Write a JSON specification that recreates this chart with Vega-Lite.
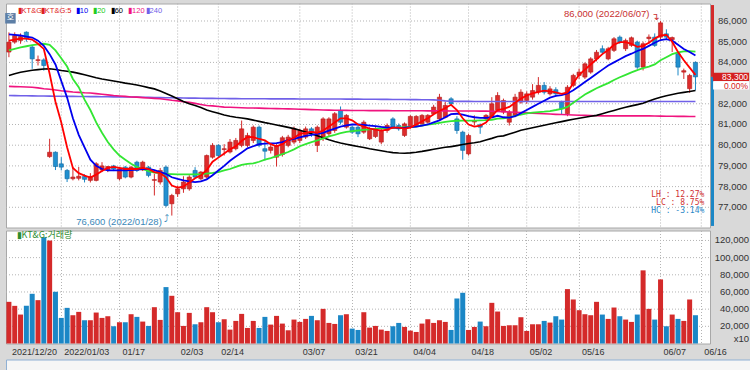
{
  "$schema": "https://vega.github.io/schema/vega-lite/v6.json",
  "background": "#d9d9d9",
  "padding": {"left": 4, "top": 2.5, "right": 0, "bottom": 0},
  "spacing": 1,
  "config": {
    "view": {"stroke": "#a8a8a8", "fill": "white"},
    "font": "Liberation Sans",
    "axis": {"labelFont": "Liberation Sans"}
  },
  "datasets": {
    "p": [
      {"d":"2021/12/20","o":84500,"h":85450,"l":84250,"c":84980,"v":48530,"a5":85050,"a10":85350,"a20":84580,"a60":83370,"a120":82840,"a240":82400},
      {"d":"2021/12/21","o":84980,"h":85450,"l":84900,"c":85300,"v":43850,"a5":85100,"a10":85330,"a20":84650,"a60":83450,"a120":82830,"a240":82396},
      {"d":"2021/12/22","o":85060,"h":85400,"l":84900,"c":85250,"v":33710,"a5":85150,"a10":85300,"a20":84720,"a60":83520,"a120":82820,"a240":82392},
      {"d":"2021/12/23","o":85460,"h":85500,"l":85000,"c":85140,"v":43850,"a5":85150,"a10":85250,"a20":84780,"a60":83570,"a120":82810,"a240":82388},
      {"d":"2021/12/24","o":84740,"h":84800,"l":83690,"c":84170,"v":57890,"a5":85100,"a10":85200,"a20":84830,"a60":83620,"a120":82800,"a240":82384},
      {"d":"2021/12/27","o":84090,"h":84330,"l":83850,"c":84130,"v":50480,"a5":84900,"a10":85050,"a20":84870,"a60":83650,"a120":82770,"a240":82380},
      {"d":"2021/12/28","o":84120,"h":84200,"l":83600,"c":83850,"v":123780,"a5":84650,"a10":84800,"a20":84900,"a60":83680,"a120":82730,"a240":82376},
      {"d":"2021/12/29","o":79450,"h":80310,"l":79390,"c":79660,"v":119880,"a5":83450,"a10":84400,"a20":84850,"a60":83690,"a120":82700,"a240":82372},
      {"d":"2021/12/30","o":79660,"h":79700,"l":78800,"c":78970,"v":60230,"a5":82100,"a10":83900,"a20":84580,"a60":83660,"a120":82670,"a240":82368},
      {"d":"2022/01/03","o":79100,"h":79420,"l":78780,"c":78940,"v":29810,"a5":81100,"a10":83100,"a20":84200,"a60":83610,"a120":82630,"a240":82364},
      {"d":"2022/01/04","o":78780,"h":78850,"l":78220,"c":78380,"v":41510,"a5":79900,"a10":82300,"a20":83800,"a60":83570,"a120":82600,"a240":82360},
      {"d":"2022/01/05","o":78380,"h":78940,"l":78300,"c":78460,"v":32930,"a5":78900,"a10":81300,"a20":83200,"a60":83530,"a120":82570,"a240":82357},
      {"d":"2022/01/06","o":78400,"h":78950,"l":78300,"c":78500,"v":36830,"a5":78650,"a10":80500,"a20":82800,"a60":83470,"a120":82550,"a240":82354},
      {"d":"2022/01/07","o":78490,"h":78600,"l":78200,"c":78350,"v":27090,"a5":78530,"a10":79900,"a20":82200,"a60":83400,"a120":82530,"a240":82351},
      {"d":"2022/01/10","o":78300,"h":78650,"l":78200,"c":78490,"v":27090,"a5":78440,"a10":79300,"a20":81700,"a60":83330,"a120":82520,"a240":82348},
      {"d":"2022/01/11","o":78300,"h":79180,"l":78250,"c":79100,"v":36050,"a5":78580,"a10":79000,"a20":81100,"a60":83260,"a120":82490,"a240":82345},
      {"d":"2022/01/12","o":78800,"h":79180,"l":78700,"c":79000,"v":29810,"a5":78750,"a10":78850,"a20":80600,"a60":83200,"a120":82460,"a240":82342},
      {"d":"2022/01/13","o":78810,"h":79000,"l":78700,"c":78970,"v":31760,"a5":78900,"a10":78780,"a20":80150,"a60":83150,"a120":82430,"a240":82339},
      {"d":"2022/01/14","o":79000,"h":79050,"l":78750,"c":78850,"v":20070,"a5":78950,"a10":78780,"a20":79800,"a60":83100,"a120":82400,"a240":82336},
      {"d":"2022/01/17","o":78380,"h":78950,"l":78300,"c":78860,"v":24750,"a5":78900,"a10":78780,"a20":79500,"a60":83050,"a120":82380,"a240":82333},
      {"d":"2022/01/18","o":78940,"h":79000,"l":78400,"c":78460,"v":24750,"a5":78850,"a10":78790,"a20":79300,"a60":83000,"a120":82360,"a240":82330},
      {"d":"2022/01/19","o":78460,"h":79000,"l":78400,"c":78940,"v":34100,"a5":78850,"a10":78800,"a20":79100,"a60":82960,"a120":82330,"a240":82325},
      {"d":"2022/01/20","o":79180,"h":79250,"l":78700,"c":78780,"v":31000,"a5":78850,"a10":78820,"a20":78950,"a60":82910,"a120":82320,"a240":82320},
      {"d":"2022/01/21","o":78810,"h":79250,"l":78750,"c":79180,"v":25530,"a5":78900,"a10":78850,"a20":78850,"a60":82850,"a120":82300,"a240":82315},
      {"d":"2022/01/24","o":78940,"h":79000,"l":78450,"c":78540,"v":20460,"a5":78850,"a10":78860,"a20":78750,"a60":82780,"a120":82280,"a240":82310},
      {"d":"2022/01/25","o":78300,"h":78620,"l":77570,"c":78340,"v":42290,"a5":78700,"a10":78800,"a20":78680,"a60":82720,"a120":82260,"a240":82305},
      {"d":"2022/01/26","o":78220,"h":78900,"l":78100,"c":78780,"v":27480,"a5":78650,"a10":78700,"a20":78650,"a60":82620,"a120":82240,"a240":82300},
      {"d":"2022/01/27","o":78940,"h":79020,"l":77000,"c":77090,"v":65690,"a5":78450,"a10":78620,"a20":78610,"a60":82500,"a120":82210,"a240":82295},
      {"d":"2022/01/28","o":77170,"h":77650,"l":76600,"c":77570,"v":55550,"a5":78050,"a10":78450,"a20":78600,"a60":82380,"a120":82170,"a240":82290},
      {"d":"2022/02/03","o":77650,"h":78050,"l":77500,"c":77890,"v":36440,"a5":77950,"a10":78370,"a20":78590,"a60":82240,"a120":82140,"a240":82285},
      {"d":"2022/02/04","o":77890,"h":78500,"l":77700,"c":78220,"v":20460,"a5":78000,"a10":78300,"a20":78590,"a60":82110,"a120":82100,"a240":82280},
      {"d":"2022/02/07","o":77890,"h":78550,"l":77800,"c":78460,"v":35660,"a5":78200,"a10":78250,"a20":78590,"a60":82000,"a120":82070,"a240":82276},
      {"d":"2022/02/08","o":78780,"h":78940,"l":78400,"c":78460,"v":22400,"a5":78400,"a10":78220,"a20":78590,"a60":81920,"a120":82020,"a240":82272},
      {"d":"2022/02/09","o":78380,"h":78750,"l":78300,"c":78700,"v":24750,"a5":78550,"a10":78250,"a20":78600,"a60":81820,"a120":81970,"a240":82268},
      {"d":"2022/02/10","o":78460,"h":79550,"l":78400,"c":79500,"v":42290,"a5":78800,"a10":78350,"a20":78630,"a60":81700,"a120":81920,"a240":82264},
      {"d":"2022/02/11","o":79420,"h":80100,"l":79350,"c":79990,"v":36440,"a5":79200,"a10":78550,"a20":78660,"a60":81620,"a120":81900,"a240":82260},
      {"d":"2022/02/14","o":79990,"h":80050,"l":79400,"c":79500,"v":24750,"a5":79400,"a10":78780,"a20":78700,"a60":81540,"a120":81870,"a240":82257},
      {"d":"2022/02/15","o":79790,"h":80050,"l":79500,"c":79830,"v":28260,"a5":79600,"a10":79000,"a20":78780,"a60":81460,"a120":81840,"a240":82254},
      {"d":"2022/02/16","o":79670,"h":80300,"l":79600,"c":80150,"v":16170,"a5":79800,"a10":79250,"a20":78850,"a60":81400,"a120":81830,"a240":82251},
      {"d":"2022/02/17","o":79830,"h":80350,"l":79750,"c":80230,"v":26310,"a5":79950,"a10":79450,"a20":78950,"a60":81350,"a120":81820,"a240":82248},
      {"d":"2022/02/18","o":79990,"h":81190,"l":79900,"c":80790,"v":34490,"a5":80200,"a10":79650,"a20":79050,"a60":81310,"a120":81810,"a240":82245},
      {"d":"2022/02/21","o":79990,"h":80600,"l":79900,"c":80470,"v":18120,"a5":80400,"a10":79850,"a20":79100,"a60":81270,"a120":81800,"a240":82244},
      {"d":"2022/02/22","o":80230,"h":80950,"l":80100,"c":80870,"v":26310,"a5":80390,"a10":79950,"a20":79120,"a60":81210,"a120":81795,"a240":82243},
      {"d":"2022/02/23","o":80870,"h":80950,"l":79900,"c":79990,"v":18120,"a5":80300,"a10":80050,"a20":79200,"a60":81150,"a120":81790,"a240":82242},
      {"d":"2022/02/24","o":79830,"h":80230,"l":79260,"c":79710,"v":31000,"a5":80230,"a10":80080,"a20":79300,"a60":81090,"a120":81780,"a240":82241},
      {"d":"2022/02/25","o":79750,"h":80000,"l":79600,"c":79910,"v":22010,"a5":80050,"a10":80090,"a20":79380,"a60":81040,"a120":81775,"a240":82240},
      {"d":"2022/02/28","o":79420,"h":80050,"l":78970,"c":79990,"v":32150,"a5":79950,"a10":80100,"a20":79470,"a60":80980,"a120":81765,"a240":82239},
      {"d":"2022/03/02","o":79550,"h":80450,"l":79450,"c":80360,"v":23190,"a5":80050,"a10":80150,"a20":79570,"a60":80920,"a120":81760,"a240":82238},
      {"d":"2022/03/03","o":79990,"h":80500,"l":79900,"c":80390,"v":15390,"a5":80250,"a10":80250,"a20":79670,"a60":80860,"a120":81755,"a240":82237},
      {"d":"2022/03/04","o":80150,"h":80900,"l":80050,"c":80790,"v":27870,"a5":80350,"a10":80300,"a20":79800,"a60":80800,"a120":81750,"a240":82236},
      {"d":"2022/03/07","o":80230,"h":80800,"l":80100,"c":80710,"v":25140,"a5":80550,"a10":80380,"a20":79950,"a60":80720,"a120":81740,"a240":82235},
      {"d":"2022/03/08","o":80390,"h":80900,"l":80300,"c":80790,"v":28650,"a5":80600,"a10":80450,"a20":80050,"a60":80640,"a120":81730,"a240":82234},
      {"d":"2022/03/10","o":80790,"h":80870,"l":80400,"c":80630,"v":32150,"a5":80650,"a10":80500,"a20":80150,"a60":80550,"a120":81720,"a240":82233},
      {"d":"2022/03/11","o":79990,"h":80950,"l":79670,"c":80870,"v":27090,"a5":80600,"a10":80550,"a20":80230,"a60":80460,"a120":81710,"a240":82232},
      {"d":"2022/03/14","o":80390,"h":81350,"l":80200,"c":81270,"v":40340,"a5":80700,"a10":80600,"a20":80330,"a60":80360,"a120":81700,"a240":82231},
      {"d":"2022/03/15","o":80550,"h":81350,"l":80450,"c":81270,"v":23970,"a5":80900,"a10":80700,"a20":80430,"a60":80260,"a120":81695,"a240":82230},
      {"d":"2022/03/16","o":80710,"h":81600,"l":80600,"c":81520,"v":22790,"a5":81100,"a10":80800,"a20":80500,"a60":80180,"a120":81690,"a240":82229},
      {"d":"2022/03/17","o":81680,"h":81870,"l":81000,"c":81110,"v":32930,"a5":81300,"a10":80900,"a20":80580,"a60":80110,"a120":81685,"a240":82228},
      {"d":"2022/03/18","o":80870,"h":81500,"l":80800,"c":81440,"v":34100,"a5":81300,"a10":80960,"a20":80640,"a60":80050,"a120":81680,"a240":82227},
      {"d":"2022/03/21","o":80870,"h":80950,"l":80550,"c":80630,"v":17340,"a5":81200,"a10":81000,"a20":80680,"a60":79990,"a120":81677,"a240":82226},
      {"d":"2022/03/22","o":80870,"h":80950,"l":80390,"c":80550,"v":15780,"a5":81000,"a10":81000,"a20":80710,"a60":79940,"a120":81675,"a240":82225},
      {"d":"2022/03/23","o":80630,"h":81200,"l":80550,"c":81110,"v":36440,"a5":80900,"a10":80980,"a20":80740,"a60":79890,"a120":81674,"a240":82222},
      {"d":"2022/03/24","o":80310,"h":80870,"l":80250,"c":80790,"v":18510,"a5":80800,"a10":80950,"a20":80770,"a60":79830,"a120":81672,"a240":82220},
      {"d":"2022/03/25","o":80420,"h":80870,"l":80350,"c":80790,"v":20460,"a5":80750,"a10":80920,"a20":80790,"a60":79780,"a120":81671,"a240":82217},
      {"d":"2022/03/28","o":80150,"h":80800,"l":80050,"c":80710,"v":16170,"a5":80700,"a10":80880,"a20":80810,"a60":79730,"a120":81670,"a240":82215},
      {"d":"2022/03/29","o":80710,"h":81050,"l":80600,"c":80950,"v":14610,"a5":80750,"a10":80850,"a20":80830,"a60":79680,"a120":81668,"a240":82212},
      {"d":"2022/03/30","o":81270,"h":81350,"l":80800,"c":80870,"v":20070,"a5":80850,"a10":80850,"a20":80840,"a60":79640,"a120":81667,"a240":82210},
      {"d":"2022/03/31","o":80950,"h":81050,"l":80700,"c":80790,"v":23970,"a5":80850,"a10":80840,"a20":80850,"a60":79620,"a120":81666,"a240":82207},
      {"d":"2022/04/01","o":80470,"h":81100,"l":80400,"c":81030,"v":19290,"a5":80800,"a10":80850,"a20":80870,"a60":79610,"a120":81665,"a240":82205},
      {"d":"2022/04/04","o":80870,"h":81450,"l":80800,"c":81390,"v":15000,"a5":80850,"a10":80870,"a20":80880,"a60":79630,"a120":81663,"a240":82202},
      {"d":"2022/04/05","o":80950,"h":81450,"l":80900,"c":81390,"v":13440,"a5":81000,"a10":80900,"a20":80900,"a60":79660,"a120":81662,"a240":82200},
      {"d":"2022/04/06","o":81030,"h":81500,"l":80950,"c":81440,"v":23190,"a5":81150,"a10":80950,"a20":80950,"a60":79700,"a120":81661,"a240":82197},
      {"d":"2022/04/07","o":81110,"h":81500,"l":81050,"c":81440,"v":28260,"a5":81300,"a10":81000,"a20":80990,"a60":79750,"a120":81660,"a240":82194},
      {"d":"2022/04/08","o":81520,"h":81950,"l":81450,"c":81840,"v":23970,"a5":81500,"a10":81100,"a20":81030,"a60":79800,"a120":81658,"a240":82190},
      {"d":"2022/04/11","o":81270,"h":82480,"l":81200,"c":82320,"v":27090,"a5":81650,"a10":81200,"a20":81080,"a60":79850,"a120":81657,"a240":82170},
      {"d":"2022/04/12","o":81350,"h":82100,"l":81300,"c":81920,"v":25140,"a5":81800,"a10":81350,"a20":81130,"a60":79900,"a120":81656,"a240":82140},
      {"d":"2022/04/13","o":82240,"h":82320,"l":81900,"c":82000,"v":15780,"a5":81950,"a10":81500,"a20":81160,"a60":79930,"a120":81655,"a240":82125},
      {"d":"2022/04/14","o":81270,"h":81400,"l":80550,"c":80710,"v":52430,"a5":81700,"a10":81520,"a20":81180,"a60":79980,"a120":81653,"a240":82118},
      {"d":"2022/04/15","o":80630,"h":80700,"l":79300,"c":79750,"v":59060,"a5":81300,"a10":81480,"a20":81190,"a60":80030,"a120":81652,"a240":82115},
      {"d":"2022/04/18","o":79580,"h":80550,"l":79500,"c":80470,"v":15780,"a5":81000,"a10":81400,"a20":81190,"a60":80080,"a120":81651,"a240":82115},
      {"d":"2022/04/19","o":81120,"h":81440,"l":80950,"c":81160,"v":19290,"a5":80900,"a10":81350,"a20":81190,"a60":80120,"a120":81650,"a240":82114},
      {"d":"2022/04/20","o":80990,"h":81050,"l":80550,"c":80870,"v":25530,"a5":80950,"a10":81320,"a20":81200,"a60":80170,"a120":81648,"a240":82114},
      {"d":"2022/04/21","o":81270,"h":81500,"l":81200,"c":81440,"v":20070,"a5":81100,"a10":81320,"a20":81210,"a60":80250,"a120":81645,"a240":82113},
      {"d":"2022/04/22","o":81350,"h":82320,"l":81300,"c":82000,"v":47360,"a5":81400,"a10":81350,"a20":81230,"a60":80330,"a120":81640,"a240":82113},
      {"d":"2022/04/25","o":81680,"h":82560,"l":81600,"c":82400,"v":37220,"a5":81700,"a10":81420,"a20":81280,"a60":80420,"a120":81630,"a240":82113},
      {"d":"2022/04/26","o":81600,"h":82250,"l":81500,"c":82160,"v":20460,"a5":81750,"a10":81350,"a20":81300,"a60":80450,"a120":81620,"a240":82112},
      {"d":"2022/04/27","o":81110,"h":81700,"l":80950,"c":81600,"v":21240,"a5":81850,"a10":81330,"a20":81350,"a60":80540,"a120":81605,"a240":82112},
      {"d":"2022/04/28","o":81440,"h":82480,"l":81350,"c":82320,"v":21240,"a5":82050,"a10":81400,"a20":81420,"a60":80630,"a120":81590,"a240":82112},
      {"d":"2022/04/29","o":82080,"h":82700,"l":82000,"c":82560,"v":30600,"a5":82250,"a10":81550,"a20":81480,"a60":80720,"a120":81575,"a240":82112},
      {"d":"2022/05/02","o":82160,"h":82600,"l":82000,"c":82480,"v":14610,"a5":82400,"a10":81700,"a20":81540,"a60":80780,"a120":81560,"a240":82112},
      {"d":"2022/05/03","o":82320,"h":82950,"l":82200,"c":82640,"v":22400,"a5":82500,"a10":81850,"a20":81570,"a60":80840,"a120":81548,"a240":82112},
      {"d":"2022/05/04","o":82560,"h":83290,"l":82450,"c":82890,"v":22400,"a5":82580,"a10":82000,"a20":81600,"a60":80900,"a120":81535,"a240":82112},
      {"d":"2022/05/06","o":82890,"h":83050,"l":82450,"c":82560,"v":26310,"a5":82640,"a10":82150,"a20":81620,"a60":80960,"a120":81520,"a240":82112},
      {"d":"2022/05/09","o":82480,"h":82850,"l":82400,"c":82720,"v":24360,"a5":82600,"a10":82300,"a20":81650,"a60":81020,"a120":81505,"a240":82112},
      {"d":"2022/05/10","o":82680,"h":82800,"l":82350,"c":82480,"v":31760,"a5":82550,"a10":82380,"a20":81700,"a60":81080,"a120":81490,"a240":82112},
      {"d":"2022/05/11","o":82080,"h":82150,"l":81500,"c":81760,"v":27870,"a5":82480,"a10":82420,"a20":81760,"a60":81140,"a120":81480,"a240":82112},
      {"d":"2022/05/12","o":81520,"h":82900,"l":81400,"c":82800,"v":63350,"a5":82550,"a10":82500,"a20":81850,"a60":81200,"a120":81468,"a240":82112},
      {"d":"2022/05/13","o":82890,"h":83450,"l":82800,"c":83370,"v":51260,"a5":83000,"a10":82650,"a20":82050,"a60":81250,"a120":81460,"a240":82112},
      {"d":"2022/05/16","o":83370,"h":83700,"l":83200,"c":83530,"v":38780,"a5":83400,"a10":82850,"a20":82250,"a60":81300,"a120":81450,"a240":82112},
      {"d":"2022/05/17","o":83290,"h":84000,"l":83200,"c":83930,"v":34100,"a5":83650,"a10":83050,"a20":82450,"a60":81350,"a120":81440,"a240":82112},
      {"d":"2022/05/18","o":83530,"h":84250,"l":83450,"c":84170,"v":32930,"a5":83900,"a10":83250,"a20":82600,"a60":81400,"a120":81430,"a240":82112},
      {"d":"2022/05/19","o":84170,"h":84600,"l":84050,"c":84490,"v":48530,"a5":84150,"a10":83450,"a20":82750,"a60":81440,"a120":81420,"a240":82112},
      {"d":"2022/05/20","o":84660,"h":84820,"l":84400,"c":84490,"v":33710,"a5":84400,"a10":83650,"a20":82880,"a60":81520,"a120":81415,"a240":82112},
      {"d":"2022/05/23","o":84170,"h":84750,"l":84100,"c":84660,"v":28650,"a5":84600,"a10":83850,"a20":83000,"a60":81600,"a120":81415,"a240":82112},
      {"d":"2022/05/24","o":84580,"h":85220,"l":84500,"c":85140,"v":41900,"a5":84850,"a10":84000,"a20":83150,"a60":81680,"a120":81415,"a240":82112},
      {"d":"2022/05/25","o":85220,"h":85300,"l":84900,"c":84980,"v":31760,"a5":84980,"a10":84150,"a20":83280,"a60":81760,"a120":81415,"a240":82112},
      {"d":"2022/05/26","o":84660,"h":85150,"l":84550,"c":85060,"v":27870,"a5":84980,"a10":84300,"a20":83400,"a60":81830,"a120":81415,"a240":82112},
      {"d":"2022/05/27","o":84820,"h":85250,"l":84750,"c":85190,"v":25140,"a5":84900,"a10":84420,"a20":83520,"a60":81900,"a120":81415,"a240":82112},
      {"d":"2022/05/30","o":84980,"h":85050,"l":83690,"c":83770,"v":33710,"a5":84750,"a10":84550,"a20":83630,"a60":81960,"a120":81415,"a240":82112},
      {"d":"2022/05/31","o":83770,"h":85000,"l":83610,"c":84900,"v":85180,"a5":84800,"a10":84650,"a20":83720,"a60":82030,"a120":81415,"a240":82112},
      {"d":"2022/06/02","o":85150,"h":85350,"l":84900,"c":85220,"v":40340,"a5":84950,"a10":84800,"a20":83800,"a60":82130,"a120":81415,"a240":82111},
      {"d":"2022/06/03","o":85220,"h":85400,"l":84750,"c":84820,"v":27870,"a5":85150,"a10":84950,"a20":83900,"a60":82230,"a120":81410,"a240":82111},
      {"d":"2022/06/07","o":85220,"h":86000,"l":85100,"c":85910,"v":74650,"a5":85300,"a10":85080,"a20":84100,"a60":82320,"a120":81405,"a240":82111},
      {"d":"2022/06/08","o":85380,"h":85600,"l":85100,"c":85220,"v":20070,"a5":85330,"a10":85120,"a20":84250,"a60":82390,"a120":81400,"a240":82111},
      {"d":"2022/06/09","o":85100,"h":85250,"l":84500,"c":85200,"v":33710,"a5":85000,"a10":85050,"a20":84400,"a60":82450,"a120":81395,"a240":82110},
      {"d":"2022/06/10","o":84420,"h":84450,"l":83370,"c":83770,"v":28650,"a5":84500,"a10":84850,"a20":84480,"a60":82510,"a120":81392,"a240":82110},
      {"d":"2022/06/13","o":83530,"h":83700,"l":83200,"c":83600,"v":26310,"a5":84100,"a10":84650,"a20":84530,"a60":82550,"a120":81390,"a240":82110},
      {"d":"2022/06/14","o":82730,"h":83450,"l":82530,"c":83370,"v":51260,"a5":83750,"a10":84500,"a20":84540,"a60":82590,"a120":81388,"a240":82110},
      {"d":"2022/06/15","o":84000,"h":84050,"l":82650,"c":83300,"v":32930,"a5":83400,"a10":84330,"a20":84520,"a60":82640,"a120":81387,"a240":82110}
    ],
    "gd": [
      {"d":"2022/01/03"},{"d":"2022/01/17"},{"d":"2022/02/03"},{"d":"2022/02/14"},{"d":"2022/03/07"},{"d":"2022/03/21"},
      {"d":"2022/04/04"},{"d":"2022/04/18"},{"d":"2022/05/02"},{"d":"2022/05/16"},{"d":"2022/06/07"},{"d":"2022/06/16"}
    ],
    "pl": [
      {"d":"2022/06/17","y":77000},{"d":"2022/06/17","y":78000},{"d":"2022/06/17","y":79000},{"d":"2022/06/17","y":80000},{"d":"2022/06/17","y":81000},
      {"d":"2022/06/17","y":82000},{"d":"2022/06/17","y":83000},{"d":"2022/06/17","y":84000},{"d":"2022/06/17","y":85000},{"d":"2022/06/17","y":86000}
    ],
    "plt": [
      {"d":"2022/06/17","y":77000},{"d":"2022/06/17","y":78000},{"d":"2022/06/17","y":79000},{"d":"2022/06/17","y":80000},{"d":"2022/06/17","y":81000},
      {"d":"2022/06/17","y":82000},{"d":"2022/06/17","y":84000},{"d":"2022/06/17","y":85000},{"d":"2022/06/17","y":86000}
    ],
    "vt": [
      {"d":"2022/06/17","y":20000},{"d":"2022/06/17","y":40000},{"d":"2022/06/17","y":60000},
      {"d":"2022/06/17","y":80000},{"d":"2022/06/17","y":100000},{"d":"2022/06/17","y":120000}
    ],
    "lg": [
      {"d":"2021/12/22","t":"▮KT&G"},
      {"d":"2021/12/28","t":"▮KT&G:5"},
      {"d":"2022/01/06","t":"▮10"},
      {"d":"2022/01/11","t":"▮20"},
      {"d":"2022/01/14","t":"▮60"},
      {"d":"2022/01/19","t":"▮120"},
      {"d":"2022/01/24","t":"▮240"}
    ],
    "an": [
      {"d":"2022/06/07","y":86000,"t":"86,000 (2022/06/07)"}
    ],
    "an2": [
      {"d":"2022/01/28","y":76600,"t":"76,600 (2022/01/28)"}
    ],
    "st": [
      {"d":"2022/06/16","y":77610,"t":"LH : 12.27%","k":"r"},
      {"d":"2022/06/16","y":77220,"t":"LC :  8.75%","k":"r"},
      {"d":"2022/06/16","y":76840,"t":"HC : -3.14%","k":"b"}
    ],
    "cur": [
      {"d":"2022/06/17","y":83300,"t":"83,300"}
    ],
    "pct": [
      {"d":"2022/06/17","y":82890,"t":"0.00%"}
    ],
    "side": [
      {"lo":83300,"hi":86770,"k":"up"},
      {"lo":76100,"hi":83300,"k":"dn"}
    ],
    "vl": [
      {"d":"2021/12/22","y":126500,"t":"▮KT&G:거래량"}
    ],
    "x10": [
      {"d":"2022/06/17","y":5600,"t":"x10"}
    ],
    "ho": [
      {"d":"2021/12/20","y":86130,"t":"호"}
    ]
  },
  "vconcat": [
    {
      "width": 704,
      "height": 224,
      "encoding": {
        "x": {
          "field": "d", "type": "ordinal",
          "scale": {"paddingInner": 0, "paddingOuter": 0, "domain": ["2021/12/20","2021/12/21","2021/12/22","2021/12/23","2021/12/24","2021/12/27","2021/12/28","2021/12/29","2021/12/30","2022/01/03","2022/01/04","2022/01/05","2022/01/06","2022/01/07","2022/01/10","2022/01/11","2022/01/12","2022/01/13","2022/01/14","2022/01/17","2022/01/18","2022/01/19","2022/01/20","2022/01/21","2022/01/24","2022/01/25","2022/01/26","2022/01/27","2022/01/28","2022/02/03","2022/02/04","2022/02/07","2022/02/08","2022/02/09","2022/02/10","2022/02/11","2022/02/14","2022/02/15","2022/02/16","2022/02/17","2022/02/18","2022/02/21","2022/02/22","2022/02/23","2022/02/24","2022/02/25","2022/02/28","2022/03/02","2022/03/03","2022/03/04","2022/03/07","2022/03/08","2022/03/10","2022/03/11","2022/03/14","2022/03/15","2022/03/16","2022/03/17","2022/03/18","2022/03/21","2022/03/22","2022/03/23","2022/03/24","2022/03/25","2022/03/28","2022/03/29","2022/03/30","2022/03/31","2022/04/01","2022/04/04","2022/04/05","2022/04/06","2022/04/07","2022/04/08","2022/04/11","2022/04/12","2022/04/13","2022/04/14","2022/04/15","2022/04/18","2022/04/19","2022/04/20","2022/04/21","2022/04/22","2022/04/25","2022/04/26","2022/04/27","2022/04/28","2022/04/29","2022/05/02","2022/05/03","2022/05/04","2022/05/06","2022/05/09","2022/05/10","2022/05/11","2022/05/12","2022/05/13","2022/05/16","2022/05/17","2022/05/18","2022/05/19","2022/05/20","2022/05/23","2022/05/24","2022/05/25","2022/05/26","2022/05/27","2022/05/30","2022/05/31","2022/06/02","2022/06/03","2022/06/07","2022/06/08","2022/06/09","2022/06/10","2022/06/13","2022/06/14","2022/06/15","2022/06/16","2022/06/17"]},
          "axis": null
        }
      },
      "layer": [
        {
          "data": {"name": "gd"},
          "mark": {"type": "rule", "strokeDash": [1, 2], "color": "#b4b4b4", "strokeWidth": 1},
          "encoding": {}
        },
        {
          "data": {"name": "pl"},
          "mark": {"type": "rule", "strokeDash": [1, 2], "color": "#b4b4b4", "strokeWidth": 1},
          "encoding": {
            "x": {"value": 0}, "x2": {"value": "width"},
            "y": {"field": "y", "type": "quantitative", "title": null, "axis": null, "scale": {"domain": [76024, 86845], "nice": false, "zero": false}}
          }
        },
        {
          "data": {"name": "p"},
          "mark": {"type": "rule", "strokeWidth": 1},
          "encoding": {
            "y": {"field": "l", "type": "quantitative", "title": null, "scale": {"domain": [76024, 86845], "nice": false, "zero": false}},
            "y2": {"field": "h"},
            "color": {"condition": {"test": "datum.c >= datum.o", "value": "#d42a2a"}, "value": "#1b87c6"}
          }
        },
        {
          "data": {"name": "p"},
          "mark": {"type": "bar", "width": {"band": 0.72}, "strokeWidth": 0.6},
          "encoding": {
            "y": {"field": "o", "type": "quantitative", "title": null, "scale": {"domain": [76024, 86845], "nice": false, "zero": false}},
            "y2": {"field": "c"},
            "color": {"condition": {"test": "datum.c >= datum.o", "value": "#de2c2c"}, "value": "#2190d0"},
            "stroke": {"condition": {"test": "datum.c >= datum.o", "value": "#b01c1c"}, "value": "#14689e"}
          }
        },
        {
          "data": {"name": "p"},
          "mark": {"type": "line", "color": "#7060e8", "strokeWidth": 1.6},
          "encoding": {"y": {"field": "a240", "type": "quantitative", "title": null, "scale": {"domain": [76024, 86845], "nice": false, "zero": false}}}
        },
        {
          "data": {"name": "p"},
          "mark": {"type": "line", "color": "#f0147f", "strokeWidth": 1.6},
          "encoding": {"y": {"field": "a120", "type": "quantitative", "title": null, "scale": {"domain": [76024, 86845], "nice": false, "zero": false}}}
        },
        {
          "data": {"name": "p"},
          "mark": {"type": "line", "color": "#000000", "strokeWidth": 1.6},
          "encoding": {"y": {"field": "a60", "type": "quantitative", "title": null, "scale": {"domain": [76024, 86845], "nice": false, "zero": false}}}
        },
        {
          "data": {"name": "p"},
          "mark": {"type": "line", "color": "#33e633", "strokeWidth": 1.8},
          "encoding": {"y": {"field": "a20", "type": "quantitative", "title": null, "scale": {"domain": [76024, 86845], "nice": false, "zero": false}}}
        },
        {
          "data": {"name": "p"},
          "mark": {"type": "line", "color": "#0000ee", "strokeWidth": 1.8},
          "encoding": {"y": {"field": "a10", "type": "quantitative", "title": null, "scale": {"domain": [76024, 86845], "nice": false, "zero": false}}}
        },
        {
          "data": {"name": "p"},
          "mark": {"type": "line", "color": "#ff0000", "strokeWidth": 1.8},
          "encoding": {"y": {"field": "a5", "type": "quantitative", "title": null, "scale": {"domain": [76024, 86845], "nice": false, "zero": false}}}
        },
        {
          "data": {"name": "plt"},
          "mark": {"type": "text", "align": "right", "baseline": "middle", "fontSize": 9.5, "color": "#333333", "dx": 40},
          "encoding": {
            "y": {"field": "y", "type": "quantitative", "title": null, "scale": {"domain": [76024, 86845], "nice": false, "zero": false}},
            "text": {"field": "y", "type": "quantitative", "format": ","}
          }
        },
        {
          "data": {"name": "lg"},
          "mark": {"type": "text", "align": "left", "baseline": "middle", "fontSize": 7.5, "dx": -3},
          "encoding": {
            "y": {"datum": 86500, "type": "quantitative", "title": null, "scale": {"domain": [76024, 86845], "nice": false, "zero": false}},
            "text": {"field": "t"},
            "color": {"condition": [
              {"test": "datum.t == '▮10'", "value": "#0000ee"},
              {"test": "datum.t == '▮20'", "value": "#22cc22"},
              {"test": "datum.t == '▮60'", "value": "#000000"},
              {"test": "datum.t == '▮120'", "value": "#f0147f"},
              {"test": "datum.t == '▮240'", "value": "#7060e8"}
            ], "value": "#e02020"}
          }
        },
        {
          "data": {"name": "ho"},
          "mark": {"type": "point", "shape": "square", "filled": true, "size": 110, "color": "#5d7fa6", "opacity": 1, "xOffset": 1.5},
          "encoding": {"y": {"field": "y", "type": "quantitative", "title": null, "scale": {"domain": [76024, 86845], "nice": false, "zero": false}}}
        },
        {
          "data": {"name": "ho"},
          "mark": {"type": "text", "font": "Noto Sans CJK KR", "fontSize": 8, "color": "white", "dx": 1.5, "baseline": "middle"},
          "encoding": {"y": {"field": "y", "type": "quantitative", "title": null, "scale": {"domain": [76024, 86845], "nice": false, "zero": false}}, "text": {"field": "t"}}
        },
        {
          "data": {"name": "an"},
          "mark": {"type": "text", "align": "right", "baseline": "middle", "fontSize": 9.5, "dx": -11, "dy": -7, "color": "#c83030"},
          "encoding": {"y": {"field": "y", "type": "quantitative", "title": null, "scale": {"domain": [76024, 86845], "nice": false, "zero": false}}, "text": {"field": "t"}}
        },
        {
          "data": {"name": "an"},
          "mark": {"type": "text", "align": "center", "baseline": "middle", "fontSize": 10, "font": "DejaVu Sans", "dx": -5, "dy": -4, "color": "#c83030"},
          "encoding": {"y": {"field": "y", "type": "quantitative", "title": null, "scale": {"domain": [76024, 86845], "nice": false, "zero": false}}, "text": {"value": "↴"}}
        },
        {
          "data": {"name": "an2"},
          "mark": {"type": "text", "align": "right", "baseline": "middle", "fontSize": 9.5, "dx": -10, "dy": 6, "color": "#3a88b8"},
          "encoding": {"y": {"field": "y", "type": "quantitative", "title": null, "scale": {"domain": [76024, 86845], "nice": false, "zero": false}}, "text": {"field": "t"}}
        },
        {
          "data": {"name": "an2"},
          "mark": {"type": "text", "align": "center", "baseline": "middle", "fontSize": 10, "font": "DejaVu Sans", "dx": -5, "dy": 3, "color": "#3a88b8"},
          "encoding": {"y": {"field": "y", "type": "quantitative", "title": null, "scale": {"domain": [76024, 86845], "nice": false, "zero": false}}, "text": {"value": "⤴"}}
        },
        {
          "data": {"name": "st"},
          "mark": {"type": "text", "align": "right", "baseline": "middle", "fontSize": 8, "font": "DejaVu Sans Mono", "dx": 3},
          "encoding": {
            "y": {"field": "y", "type": "quantitative", "title": null, "scale": {"domain": [76024, 86845], "nice": false, "zero": false}},
            "text": {"field": "t"},
            "color": {"condition": {"test": "datum.k == 'b'", "value": "#2a88c8"}, "value": "#d03030"}
          }
        },
        {
          "data": {"name": "side"},
          "mark": {"type": "rule", "strokeWidth": 3, "xOffset": 2.5, "clip": false},
          "encoding": {
            "x": {"value": "width"},
            "y": {"field": "lo", "type": "quantitative", "title": null, "scale": {"domain": [76024, 86845], "nice": false, "zero": false}},
            "y2": {"field": "hi"},
            "color": {"condition": {"test": "datum.k == 'up'", "value": "#d42a2a"}, "value": "#1b87c6"}
          }
        },
        {
          "data": {"name": "pct"},
          "mark": {"type": "point", "shape": "M-1,-0.23L1,-0.23L1,0.23L-1,0.23Z", "filled": true, "size": 1296, "color": "white", "opacity": 1, "xOffset": 24},
          "encoding": {"y": {"field": "y", "type": "quantitative", "title": null, "scale": {"domain": [76024, 86845], "nice": false, "zero": false}}}
        },
        {
          "data": {"name": "cur"},
          "mark": {"type": "point", "shape": "M-1,-0.23L1,-0.23L1,0.23L-1,0.23Z", "filled": true, "size": 1296, "color": "#d42020", "opacity": 1, "xOffset": 24},
          "encoding": {"y": {"field": "y", "type": "quantitative", "title": null, "scale": {"domain": [76024, 86845], "nice": false, "zero": false}}}
        },
        {
          "data": {"name": "cur"},
          "mark": {"type": "point", "shape": "triangle-left", "filled": true, "size": 45, "color": "#d42020", "opacity": 1, "xOffset": 8},
          "encoding": {"y": {"field": "y", "type": "quantitative", "title": null, "scale": {"domain": [76024, 86845], "nice": false, "zero": false}}}
        },
        {
          "data": {"name": "cur"},
          "mark": {"type": "text", "align": "right", "baseline": "middle", "fontSize": 8.5, "color": "white", "dx": 41},
          "encoding": {"y": {"field": "y", "type": "quantitative", "title": null, "scale": {"domain": [76024, 86845], "nice": false, "zero": false}}, "text": {"field": "t"}}
        },
        {
          "data": {"name": "pct"},
          "mark": {"type": "text", "align": "right", "baseline": "middle", "fontSize": 8.5, "color": "#d42020", "dx": 41, "dy": 0.5},
          "encoding": {"y": {"field": "y", "type": "quantitative", "title": null, "scale": {"domain": [76024, 86845], "nice": false, "zero": false}}, "text": {"field": "t"}}
        }
      ]
    },
    {
      "width": 704,
      "height": 113,
      "encoding": {
        "x": {
          "field": "d", "type": "ordinal",
          "scale": {"paddingInner": 0, "paddingOuter": 0, "domain": ["2021/12/20","2021/12/21","2021/12/22","2021/12/23","2021/12/24","2021/12/27","2021/12/28","2021/12/29","2021/12/30","2022/01/03","2022/01/04","2022/01/05","2022/01/06","2022/01/07","2022/01/10","2022/01/11","2022/01/12","2022/01/13","2022/01/14","2022/01/17","2022/01/18","2022/01/19","2022/01/20","2022/01/21","2022/01/24","2022/01/25","2022/01/26","2022/01/27","2022/01/28","2022/02/03","2022/02/04","2022/02/07","2022/02/08","2022/02/09","2022/02/10","2022/02/11","2022/02/14","2022/02/15","2022/02/16","2022/02/17","2022/02/18","2022/02/21","2022/02/22","2022/02/23","2022/02/24","2022/02/25","2022/02/28","2022/03/02","2022/03/03","2022/03/04","2022/03/07","2022/03/08","2022/03/10","2022/03/11","2022/03/14","2022/03/15","2022/03/16","2022/03/17","2022/03/18","2022/03/21","2022/03/22","2022/03/23","2022/03/24","2022/03/25","2022/03/28","2022/03/29","2022/03/30","2022/03/31","2022/04/01","2022/04/04","2022/04/05","2022/04/06","2022/04/07","2022/04/08","2022/04/11","2022/04/12","2022/04/13","2022/04/14","2022/04/15","2022/04/18","2022/04/19","2022/04/20","2022/04/21","2022/04/22","2022/04/25","2022/04/26","2022/04/27","2022/04/28","2022/04/29","2022/05/02","2022/05/03","2022/05/04","2022/05/06","2022/05/09","2022/05/10","2022/05/11","2022/05/12","2022/05/13","2022/05/16","2022/05/17","2022/05/18","2022/05/19","2022/05/20","2022/05/23","2022/05/24","2022/05/25","2022/05/26","2022/05/27","2022/05/30","2022/05/31","2022/06/02","2022/06/03","2022/06/07","2022/06/08","2022/06/09","2022/06/10","2022/06/13","2022/06/14","2022/06/15","2022/06/16","2022/06/17"]},
          "axis": {"values": ["2021/12/20","2022/01/03","2022/01/17","2022/02/03","2022/02/14","2022/03/07","2022/03/21","2022/04/04","2022/04/18","2022/05/02","2022/05/16","2022/06/07","2022/06/16"],
            "labelExpr": "datum.value == '2021/12/20' || datum.value == '2022/01/03' ? datum.value : slice(datum.value, 5)",
            "labelAlign": "left", "labelOffset": 3, "labelAngle": 0, "labelFontSize": 9, "labelColor": "#333333", "labelPadding": 4,
            "labelOverlap": false, "labelFlush": false, "labelBound": false,
            "ticks": false, "domain": false, "grid": true, "gridDash": [1, 2], "gridColor": "#b4b4b4",
            "gridOpacity": {"condition": {"test": "datum.value == '2021/12/20'", "value": 0}, "value": 1},
            "bandPosition": 0.5, "title": null}
        }
      },
      "layer": [
        {
          "data": {"name": "vt"},
          "mark": {"type": "rule", "strokeDash": [1, 2], "color": "#b4b4b4", "strokeWidth": 1},
          "encoding": {
            "x": {"value": 0}, "x2": {"value": "width"},
            "y": {"field": "y", "type": "quantitative", "title": null, "axis": null, "scale": {"domain": [0, 131600], "nice": false}}
          }
        },
        {
          "data": {"name": "p"},
          "mark": {"type": "bar", "width": {"band": 0.86}},
          "encoding": {
            "y": {"field": "v", "type": "quantitative", "title": null, "scale": {"domain": [0, 131600], "nice": false}},
            "color": {"condition": {"test": "datum.c >= datum.o", "value": "#d42a2a"}, "value": "#1b87c6"}
          }
        },
        {
          "data": {"name": "vt"},
          "mark": {"type": "text", "align": "right", "baseline": "middle", "fontSize": 9.5, "color": "#333333", "dx": 42},
          "encoding": {
            "y": {"field": "y", "type": "quantitative", "title": null, "scale": {"domain": [0, 131600], "nice": false}},
            "text": {"field": "y", "type": "quantitative", "format": ","}
          }
        },
        {
          "data": {"name": "vl"},
          "mark": {"type": "text", "align": "left", "baseline": "middle", "fontSize": 9, "font": "Noto Sans CJK KR", "dx": -4, "color": "#2e8b2e"},
          "encoding": {
            "y": {"field": "y", "type": "quantitative", "title": null, "scale": {"domain": [0, 131600], "nice": false}},
            "text": {"field": "t"}
          }
        },
        {
          "data": {"name": "x10"},
          "mark": {"type": "text", "align": "right", "baseline": "middle", "fontSize": 9.5, "color": "#333333", "dx": 42},
          "encoding": {
            "y": {"field": "y", "type": "quantitative", "title": null, "scale": {"domain": [0, 131600], "nice": false}},
            "text": {"field": "t"}
          }
        }
      ]
    },
    {
      "width": 746,
      "height": 11,
      "view": {"fill": "#f6f6f6", "stroke": "#8fb0d4"},
      "data": {"values": [{"k": 1}]},
      "mark": {"type": "rule", "opacity": 0},
      "encoding": {}
    }
  ]
}
